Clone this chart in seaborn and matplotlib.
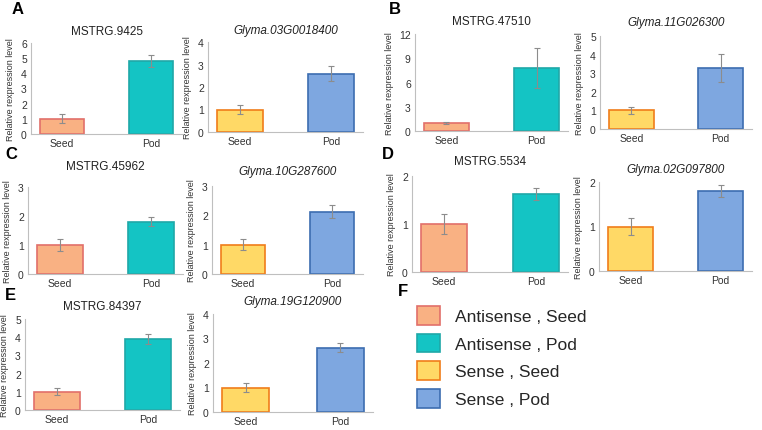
import numpy as np
import pandas as pd
import matplotlib
matplotlib.use('Agg')
import matplotlib.pyplot as plt
import seaborn as sns
from matplotlib.patches import Patch

# ---- data ----
tissues = ['Seed', 'Pod']
genes = ['MSTRG.9425', 'Glyma.03G0018400', 'MSTRG.47510', 'Glyma.11G026300',
         'MSTRG.45962', 'Glyma.10G287600', 'MSTRG.5534', 'Glyma.02G097800',
         'MSTRG.84397', 'Glyma.19G120900']
kind = ['Antisense', 'Sense'] * 5
seed_vals = [1.0, 1.0, 1.0, 1.0, 1.0, 1.0, 1.0, 1.0, 1.0, 1.0]
pod_vals = [4.8, 2.6, 7.8, 3.3, 1.8, 2.13, 1.63, 1.8, 3.9, 2.62]
seed_err = [0.3, 0.2, 0.15, 0.2, 0.2, 0.18, 0.2, 0.18, 0.2, 0.2]
pod_err = [0.4, 0.35, 2.5, 0.75, 0.15, 0.22, 0.13, 0.14, 0.25, 0.18]
y_max = [6, 4, 12, 5, 3, 3, 2, 2, 5, 4]
y_step = [1, 1, 3, 1, 1, 1, 1, 1, 1, 1]
panel_letters = ['A', 'B', 'C', 'D', 'E', 'F']
legend_labels = ['Antisense , Seed', 'Antisense , Pod', 'Sense , Seed', 'Sense , Pod']

# colours (face, edge)
face = {('Antisense', 'Seed'): '#F9B183', ('Antisense', 'Pod'): '#14C4C4',
        ('Sense', 'Seed'): '#FFD966', ('Sense', 'Pod'): '#7EA7E0'}
edge = {('Antisense', 'Seed'): '#E2706A', ('Antisense', 'Pod'): '#1FA8A8',
        ('Sense', 'Seed'): '#F07D1A', ('Sense', 'Pod'): '#3C6DB0'}

# axes boxes in pixels: left, top, right, bottom (bottom = y of zero)
boxes = [(31, 44, 182, 135), (208, 43, 363, 133), (415, 35, 568, 132), (600, 37, 752, 130),
         (28, 188, 183, 275), (212, 187, 363, 275), (412, 177, 568, 273), (599, 183, 752, 272),
         (25, 320, 180, 411), (213, 315, 373, 413)]
title_y = [32, 31, 22, 23, 167, 172, 162, 170, 307, 302]
letter_xy = [(12, 10), (389, 10), (5, 155), (382, 155), (5, 295), (398, 292)]

W, H = 762, 431
sns.set_theme(style='white')
plt.rcParams['font.family'] = ['Liberation Sans', 'DejaVu Sans']

fig = plt.figure(figsize=(W / 100, H / 100), dpi=100)

for i, g in enumerate(genes):
    l, t, r, b = boxes[i]
    ax = fig.add_axes([l / W, 1 - b / H, (r - l) / W, (b - t) / H])
    df = pd.DataFrame({'tissue': tissues, 'value': [seed_vals[i], pod_vals[i]]})
    pal = [face[(kind[i], s)] for s in tissues]
    sns.barplot(data=df, x='tissue', y='value', hue='tissue', palette=pal,
                saturation=1, width=0.5, legend=False, ax=ax, linewidth=1.2)
    for p, s in zip(ax.patches, tissues):
        p.set_edgecolor(edge[(kind[i], s)])
    ax.errorbar([0, 1], df['value'], yerr=[seed_err[i], pod_err[i]], fmt='none',
                ecolor='#8C8C8C', elinewidth=0.8, capsize=2, capthick=0.8)
    ax.set_xlim(-0.35, 1.35)
    ax.set_ylim(0, y_max[i])
    ax.set_yticks(np.arange(0, y_max[i] + 0.01, y_step[i]))
    ax.set_xlabel('')
    ax.set_ylabel('Relative rexpression level', fontsize=6.5, color='#333333', labelpad=4)
    ax.tick_params(length=0, labelsize=7.5, colors='#333333', pad=3)
    for sp in ['top', 'right']:
        ax.spines[sp].set_visible(False)
    for sp in ['left', 'bottom']:
        ax.spines[sp].set_color('#BFBFBF')
        ax.spines[sp].set_linewidth(0.8)
    style = 'italic' if kind[i] == 'Sense' else 'normal'
    fig.text((l + r) / 2 / W, 1 - title_y[i] / H, g, ha='center', va='center',
             fontsize=8.5, style=style, color='#222222')

for letter, (x, y) in zip(panel_letters, letter_xy):
    fig.text(x / W, 1 - y / H, letter, ha='left', va='center', fontsize=12,
             fontweight='bold', color='black')

handles = [Patch(facecolor=face[k], edgecolor=edge[k], linewidth=1.2)
           for k in [('Antisense', 'Seed'), ('Antisense', 'Pod'),
                     ('Sense', 'Seed'), ('Sense', 'Pod')]]
fig.legend(handles, legend_labels, loc='upper left', bbox_to_anchor=(410 / W, 1 - 300 / H),
           frameon=False, fontsize=12.5, handlelength=1.3, handleheight=1.3,
           labelspacing=0.5, handletextpad=0.9, borderaxespad=0)

fig.savefig('out.png', dpi=100)
